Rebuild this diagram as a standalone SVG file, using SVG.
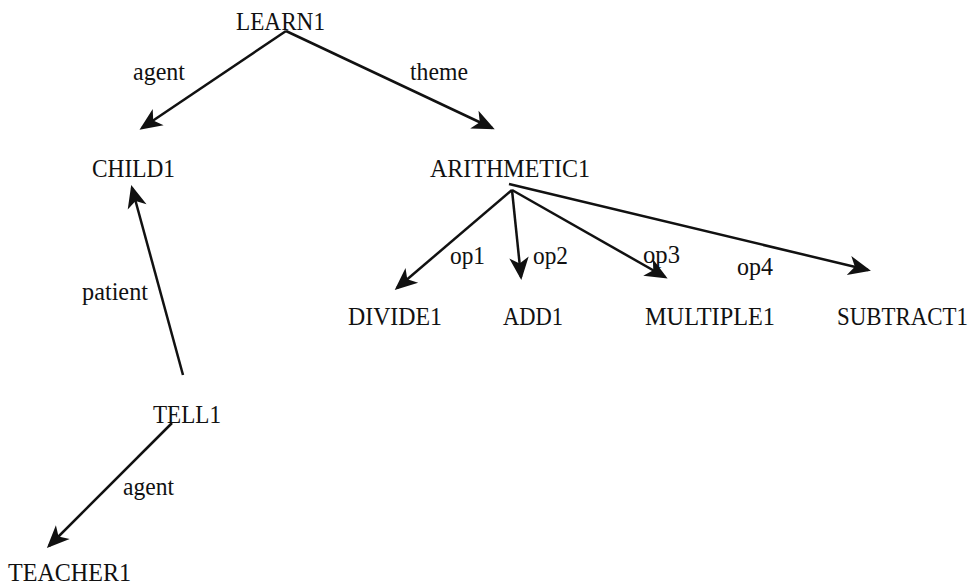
<svg xmlns="http://www.w3.org/2000/svg" width="979" height="587" viewBox="0 0 979 587">
<style>
  .lbl { font-family: "Liberation Serif", "Times New Roman", serif; font-size: 26px; fill: #111; }
  .edge { stroke: #111; stroke-width: 2.5; fill: none; marker-end: url(#arr); }
  .elbl { font-family: "Liberation Serif", "Times New Roman", serif; font-size: 25px; fill: #111; }
</style>
<defs>
  <marker id="arr" markerUnits="userSpaceOnUse" markerWidth="30" markerHeight="30" refX="0" refY="0" viewBox="-16 -8 20 16" orient="auto" overflow="visible">
    <path d="M2,0 L-13,-6.5 L-9,0 L-13,6.5 Z" fill="#111"/>
  </marker>
</defs>
<rect width="979" height="587" fill="#fff"/>

<g id="connectors">
  <line class="edge" x1="286" y1="31" x2="142" y2="128"/>
  <line class="edge" x1="286" y1="31" x2="492" y2="128"/>
  <line class="edge" x1="512" y1="190" x2="397" y2="288"/>
  <line class="edge" x1="512" y1="190" x2="521" y2="277"/>
  <line class="edge" x1="512" y1="190" x2="665" y2="277"/>
  <line class="edge" x1="509" y1="184" x2="868" y2="270"/>
  <line class="edge" x1="183" y1="375" x2="132" y2="188"/>
  <line class="edge" x1="172" y1="423" x2="49" y2="546"/>
  <text class="elbl" x="133" y="80" textLength="52" lengthAdjust="spacingAndGlyphs">agent</text>
  <text class="elbl" x="410" y="80" textLength="58" lengthAdjust="spacingAndGlyphs">theme</text>
  <text class="elbl" x="450" y="264" textLength="35" lengthAdjust="spacingAndGlyphs">op1</text>
  <text class="elbl" x="533" y="264" textLength="35" lengthAdjust="spacingAndGlyphs">op2</text>
  <text class="elbl" x="643" y="263" textLength="37" lengthAdjust="spacingAndGlyphs">op3</text>
  <text class="elbl" x="737" y="275" textLength="36" lengthAdjust="spacingAndGlyphs">op4</text>
  <text class="elbl" x="82" y="300" textLength="66" lengthAdjust="spacingAndGlyphs">patient</text>
  <text class="elbl" x="123" y="495" textLength="51" lengthAdjust="spacingAndGlyphs">agent</text>
</g>

<g id="learn1"><text class="lbl" x="236" y="30" textLength="89" lengthAdjust="spacingAndGlyphs">LEARN1</text></g>
<g id="child1"><text class="lbl" x="92" y="177" textLength="83" lengthAdjust="spacingAndGlyphs">CHILD1</text></g>
<g id="arithmetic1"><text class="lbl" x="430" y="177" textLength="160" lengthAdjust="spacingAndGlyphs">ARITHMETIC1</text></g>
<g id="divide1"><text class="lbl" x="348" y="325" textLength="94" lengthAdjust="spacingAndGlyphs">DIVIDE1</text></g>
<g id="add1"><text class="lbl" x="503" y="325" textLength="60" lengthAdjust="spacingAndGlyphs">ADD1</text></g>
<g id="multiple1"><text class="lbl" x="645" y="325" textLength="130" lengthAdjust="spacingAndGlyphs">MULTIPLE1</text></g>
<g id="subtract1"><text class="lbl" transform="translate(837,325) scale(0.88,1)" x="0" y="0">SUBTRACT1</text></g>
<g id="tell1"><text class="lbl" x="153" y="423" textLength="68" lengthAdjust="spacingAndGlyphs">TELL1</text></g>
<g id="teacher1"><text class="lbl" x="8" y="581" textLength="123" lengthAdjust="spacingAndGlyphs">TEACHER1</text></g>
</svg>
